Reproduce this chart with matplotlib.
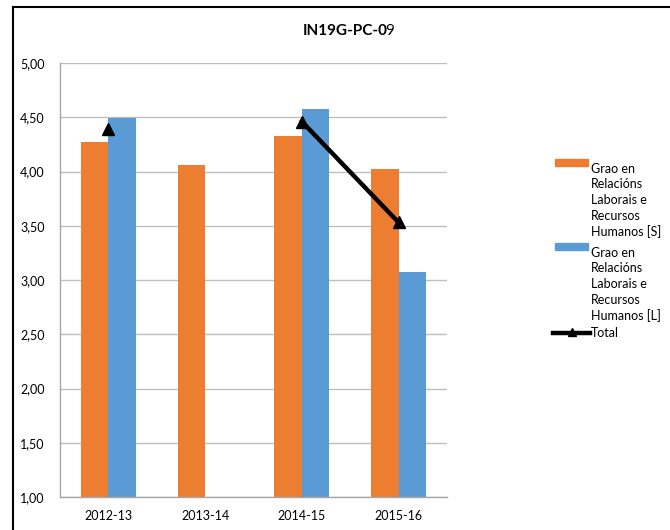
import numpy as np
import matplotlib
matplotlib.use("Agg")
import matplotlib.pyplot as plt
from matplotlib.patches import Rectangle
from matplotlib.lines import Line2D

plt.rcParams['font.family'] = ['Lato', 'DejaVu Sans']

categories = ["2012-13", "2013-14", "2014-15", "2015-16"]
series_s = [4.27, 4.06, 4.33, 4.02]
series_l = [4.49, np.nan, 4.58, 3.07]
total = [4.39, np.nan, 4.46, 3.53]
yticks = [1.0, 1.5, 2.0, 2.5, 3.0, 3.5, 4.0, 4.5, 5.0]
label_s = "Grao en\nRelacións\nLaborais e\nRecursos\nHumanos [S]"
label_l = "Grao en\nRelacións\nLaborais e\nRecursos\nHumanos [L]"
label_t = "Total"

W, H = 670, 530
fig = plt.figure(figsize=(6.7, 5.3), dpi=100)
ax = fig.add_axes([60 / W, 33 / H, 387 / W, 434 / H])

x = np.arange(len(categories))
bw = 0.285
orange = "#ED7D31"
blue = "#5B9BD5"
ax.bar(x - bw / 2, series_s, bw, color=orange, zorder=2)
ax.bar(x + bw / 2, series_l, bw, color=blue, zorder=2)
ax.plot(x, total, color="black", lw=3.2, marker="^", markersize=8, zorder=3)

ax.set_xlim(-0.5, len(categories) - 0.5)
ax.set_ylim(1.0, 5.0)
ax.set_yticks(yticks)
ax.set_yticklabels([f"{v:.2f}".replace(".", ",") for v in yticks])
ax.set_xticks(x)
ax.set_xticklabels(categories)
ax.tick_params(length=0, labelsize=9, colors="#000000")
ax.tick_params(axis="y", pad=11)
ax.tick_params(axis="x", pad=9)
ax.grid(axis="y", color="#BFBFBF", lw=1, zorder=0)
ax.set_axisbelow(True)
for s in ["top", "right"]:
    ax.spines[s].set_visible(False)
for s in ["left", "bottom"]:
    ax.spines[s].set_color("#A6A6A6")
    ax.spines[s].set_linewidth(1)

# title
t1 = fig.text(303 / W, 1 - 31 / H, "IN19G-PC-0", ha="left", va="center",
              fontsize=11, fontweight="bold")
fig.canvas.draw()
bb = t1.get_window_extent()
fig.text((bb.x1 - 2.5) / W, 1 - 31 / H, "9", ha="left", va="center", fontsize=11)

# legend (manual)
def fy(py):
    return 1 - py / H

fig.add_artist(Rectangle((555 / W, fy(166)), 33 / W, 7 / H, color=orange,
                         transform=fig.transFigure))
fig.text(591 / W, fy(163), label_s, ha="left", va="top", fontsize=9,
         linespacing=1.35, transform=fig.transFigure)
fig.add_artist(Rectangle((555 / W, fy(250)), 33 / W, 7 / H, color=blue,
                         transform=fig.transFigure))
fig.text(591 / W, fy(247), label_l, ha="left", va="top", fontsize=9,
         linespacing=1.35, transform=fig.transFigure)
fig.add_artist(Line2D([553 / W, 590 / W], [fy(333), fy(333)], color="black",
                      lw=3.2, transform=fig.transFigure))
fig.add_artist(Line2D([572 / W], [fy(332)], color="black", marker="^",
                      markersize=6, transform=fig.transFigure))
fig.text(591 / W, fy(333), label_t, ha="left", va="center", fontsize=9)

# outer frame
fig.add_artist(Line2D([13 / W, 1], [fy(7), fy(7)], color="black", lw=1.5,
                      transform=fig.transFigure))
fig.add_artist(Line2D([13 / W, 13 / W], [fy(7), 0], color="black", lw=1.5,
                      transform=fig.transFigure))

fig.savefig("out.png", dpi=100)
